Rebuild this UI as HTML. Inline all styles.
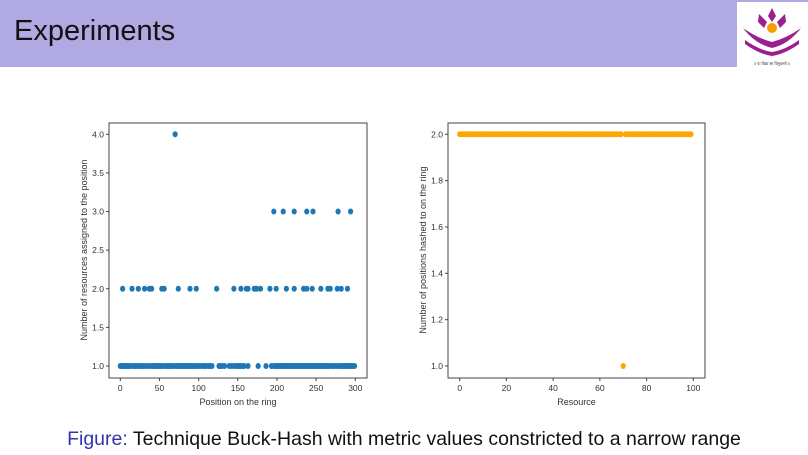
<!DOCTYPE html>
<html><head><meta charset="utf-8"><style>
body{margin:0;width:808px;height:455px;background:#fff;overflow:hidden;font-family:"Liberation Sans",sans-serif;position:relative}
#hdr{position:absolute;left:0;top:0;width:808px;height:67px;background:#b1a9e2}
#title{position:absolute;left:14px;top:15px;font-size:29px;color:#111}
#logo{position:absolute;left:737px;top:2px;width:71px;height:66px;background:#fff}
#cap{position:absolute;left:0;width:808px;top:428px;text-align:center;font-size:19.5px;color:#111}
svg text{font-family:"Liberation Sans",sans-serif;fill:#333}
</style></head><body>
<div id="hdr"></div>
<div id="title">Experiments</div>
<div id="logo">
<svg width="71" height="66" viewBox="0 0 71 66">
<path d="M35 6 L39 14 L35 20 L31 14Z" fill="#9b1f8f"/>
<path d="M22 12 L30 20 L27 26 L21 20Z" fill="#9b1f8f"/>
<path d="M48 12 L40 20 L43 26 L49 20Z" fill="#9b1f8f"/>
<circle cx="35" cy="26" r="5" fill="#f5a000"/>
<path d="M6 26 Q20 36 35 40 Q50 36 64 26 Q52 42 35 46 Q18 42 6 26Z" fill="#9b1f8f"/>
<path d="M8 38 Q22 48 35 50 Q48 48 62 38 L62 42 Q48 52 35 54 Q22 52 8 42Z" fill="#9b1f8f"/>
<text x="35" y="63" font-size="4" text-anchor="middle">॥ या विद्या सा विमुक्तये ॥</text>
</svg></div>
<svg id="chart" width="808" height="455" style="position:absolute;left:0;top:0"></svg>
<div id="cap"><span style="color:#3333b3">Figure:</span> Technique Buck-Hash with metric values constricted to a narrow range</div>
<script>
const leftOnes=[0,2,4,6,8,10,12,14,17,19,21,24,26,28,30,33,36,39,42,44,46,48,50,52,54,57,59,61,63,65,67,69,72,74,76,78,80,82,84,86,88,90,92,94,96,98,100,103,106,108,110,113,115,117,126,128,130,133,139,142,145,148,150,152,154,156,158,163,176,186,193,196,198,200,202,204,206,208,210,212,214,216,218,220,222,224,226,228,230,232,234,236,238,240,242,244,246,248,250,252,254,256,258,260,262,264,266,268,271,273,276,279,281,283,285,287,289,291,293,295,297,299];
const leftTwos=[3,15,23,31,37,40,53,56,74,89,97,123,145,154,161,163,171,174,179,191,199,212,222,234,238,245,256,265,268,277,282,290];
const leftThrees=[196,208,222,238,246,278,294];
const leftFours=[70];
const leftXTicks=[0,50,100,150,200,250,300];
const leftYTicks=[1.0,1.5,2.0,2.5,3.0,3.5,4.0];
const rightX=Array.from({length:100},(_,i)=>i);
const rightY=rightX.map(i=>i===70?1:2);
const rightXTicks=[0,20,40,60,80,100];
const rightYTicks=[1.0,1.2,1.4,1.6,1.8,2.0];

const svg=document.getElementById('chart');
const NS='http://www.w3.org/2000/svg';
function mk(t,a){const e=document.createElementNS(NS,t);for(const k in a)e.setAttribute(k,a[k]);svg.appendChild(e);return e;}

function panel(o){
  const sx=v=>o.x0+(v-o.xmin)/(o.xmax-o.xmin)*(o.x1-o.x0);
  const sy=v=>o.y0+(v-o.ymin)/(o.ymax-o.ymin)*(o.y1-o.y0);
  const f=mk('rect',{x:o.fx,y:123,width:o.fw,height:255,fill:'none',stroke:'#444','stroke-width':1});
  
  
  o.xt.forEach(v=>{
    const l=mk('line',{x1:sx(v),x2:sx(v),y1:378,y2:381,stroke:'#444'});
    
    
    const t=mk('text',{x:sx(v),y:391,'font-size':8.5,'text-anchor':'middle'});t.textContent=v;
    
    
  });
  o.yt.forEach(v=>{
    const l=mk('line',{x1:o.fx-3,x2:o.fx,y1:sy(v),y2:sy(v),stroke:'#444'});
    
    
    const t=mk('text',{x:o.fx-5,y:sy(v)+3,'font-size':8.5,'text-anchor':'end'});t.textContent=v.toFixed(1);
    
    
  });
  const xl=mk('text',{x:o.fx+o.fw/2,y:405,'font-size':9,'text-anchor':'middle'});xl.textContent=o.xlab;
  
  
  const yx=o.fx-22;
  const yl=mk('text',{x:yx,y:250,'font-size':9,'text-anchor':'middle',transform:`rotate(-90 ${yx} 250)`});yl.textContent=o.ylab;
  
  
  o.series.forEach(s=>{
    s.xs.forEach((x,i)=>{
      const c=mk('ellipse',{cx:sx(x),cy:sy(s.ys[i]),rx:2.6,ry:3,fill:o.color});
      
      
    });
  });
}
panel({name:'left-chart',fx:109,fw:258,x0:120.3,x1:355.3,xmin:0,xmax:300,y0:366,y1:134.3,ymin:1,ymax:4,
  xt:leftXTicks,yt:leftYTicks,xlab:'Position on the ring',ylab:'Number of resources assigned to the position',color:'#1f77b4',
  series:[{xs:leftOnes,ys:leftOnes.map(()=>1)},{xs:leftTwos,ys:leftTwos.map(()=>2)},{xs:leftThrees,ys:leftThrees.map(()=>3)},{xs:leftFours,ys:leftFours.map(()=>4)}]});
panel({name:'right-chart',fx:448,fw:257,x0:459.7,x1:693.3,xmin:0,xmax:100,y0:366,y1:134.3,ymin:1,ymax:2,
  xt:rightXTicks,yt:rightYTicks,xlab:'Resource',ylab:'Number of positions hashed to on the ring',color:'#ffa500',
  series:[{xs:rightX,ys:rightY}]});
</script>
</body></html>
